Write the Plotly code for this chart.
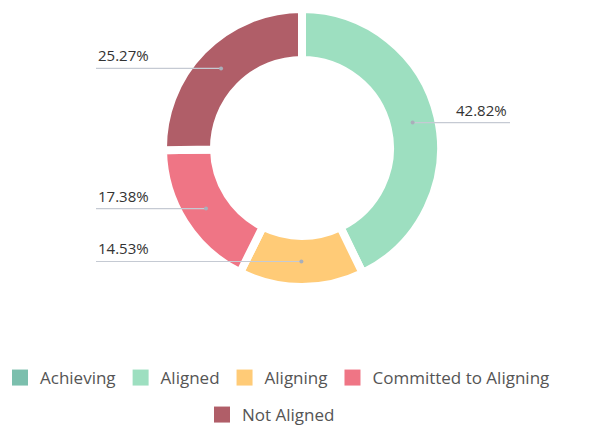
import numpy as np
import plotly.graph_objects as go

labels = ["Achieving", "Aligned", "Aligning", "Committed to Aligning", "Not Aligned"]
values = [0, 42.82, 14.53, 17.38, 25.27]
colors = ["#7bbfad", "#9ddfc0", "#ffcb77", "#ef7585", "#b05e68"]
legend_rows = ["legend", "legend", "legend", "legend", "legend2"]

W, H = 589, 429
cx, cy, R = 302, 148, 139
hole = 0.633

fig = go.Figure(go.Pie(
    labels=labels, values=values, sort=False, direction="clockwise", rotation=0,
    hole=hole, textinfo="none", hoverinfo="label+percent", showlegend=False,
    marker=dict(colors=colors, line=dict(color="white", width=8)),
    domain=dict(x=[(cx - R) / W, (cx + R) / W], y=[1 - (cy + R) / H, 1 - (cy - R) / H]),
))

# legend entries (two centred rows)
for lab, col, lg in zip(labels, colors, legend_rows):
    fig.add_trace(go.Scatter(x=[None], y=[None], mode="markers", name=lab, legend=lg,
                             marker=dict(symbol="square", size=16, color=col),
                             hoverinfo="skip"))

# leader lines + labels derived from the data
vals = np.array(values, dtype=float)
frac = vals / vals.sum()
mids = np.cumsum(frac) - frac / 2
rmid = R * (1 + hole) / 2
shapes, annos = [], []
for f, m in zip(frac, mids):
    if f <= 0:
        continue
    ang = 2 * np.pi * m
    px = cx + rmid * np.sin(ang)
    py = cy - rmid * np.cos(ang)
    right = np.sin(ang) > 0.05
    ex = 510 if right else 96
    shapes.append(dict(type="line", xref="paper", yref="paper",
                       x0=px / W, x1=ex / W, y0=1 - py / H, y1=1 - py / H,
                       line=dict(color="#c5cad3", width=1.2)))
    shapes.append(dict(type="circle", xref="paper", yref="paper",
                       x0=(px - 2) / W, x1=(px + 2) / W, y0=1 - (py - 2) / H, y1=1 - (py + 2) / H,
                       fillcolor="#a9afba", line=dict(width=0)))
    annos.append(dict(x=ex / W, y=1 - (py - 1) / H, xref="paper", yref="paper",
                      text=f"{f*100:.2f}%", showarrow=False,
                      xanchor="right" if right else "left", yanchor="bottom",
                      xshift=-1 if right else 0,
                      font=dict(family="Open Sans", size=15, color="#333333")))

legfont = dict(family="Open Sans", size=17, color="#555555")
fig.update_layout(
    width=W, height=H, margin=dict(l=0, r=0, t=0, b=0, autoexpand=False),
    paper_bgcolor="white", plot_bgcolor="white",
    xaxis=dict(visible=False), yaxis=dict(visible=False),
    shapes=shapes, annotations=annos,
    showlegend=True,
    legend=dict(orientation="h", x=0, xanchor="left", y=1 - 378 / H, yanchor="middle",
                font=legfont, itemclick=False, itemdoubleclick=False, bgcolor="rgba(0,0,0,0)"),
    legend2=dict(orientation="h", x=271 / W, xanchor="center", y=1 - 415 / H, yanchor="middle",
                 font=legfont, itemclick=False, itemdoubleclick=False, bgcolor="rgba(0,0,0,0)"),
)
fig.write_html("out.html")
